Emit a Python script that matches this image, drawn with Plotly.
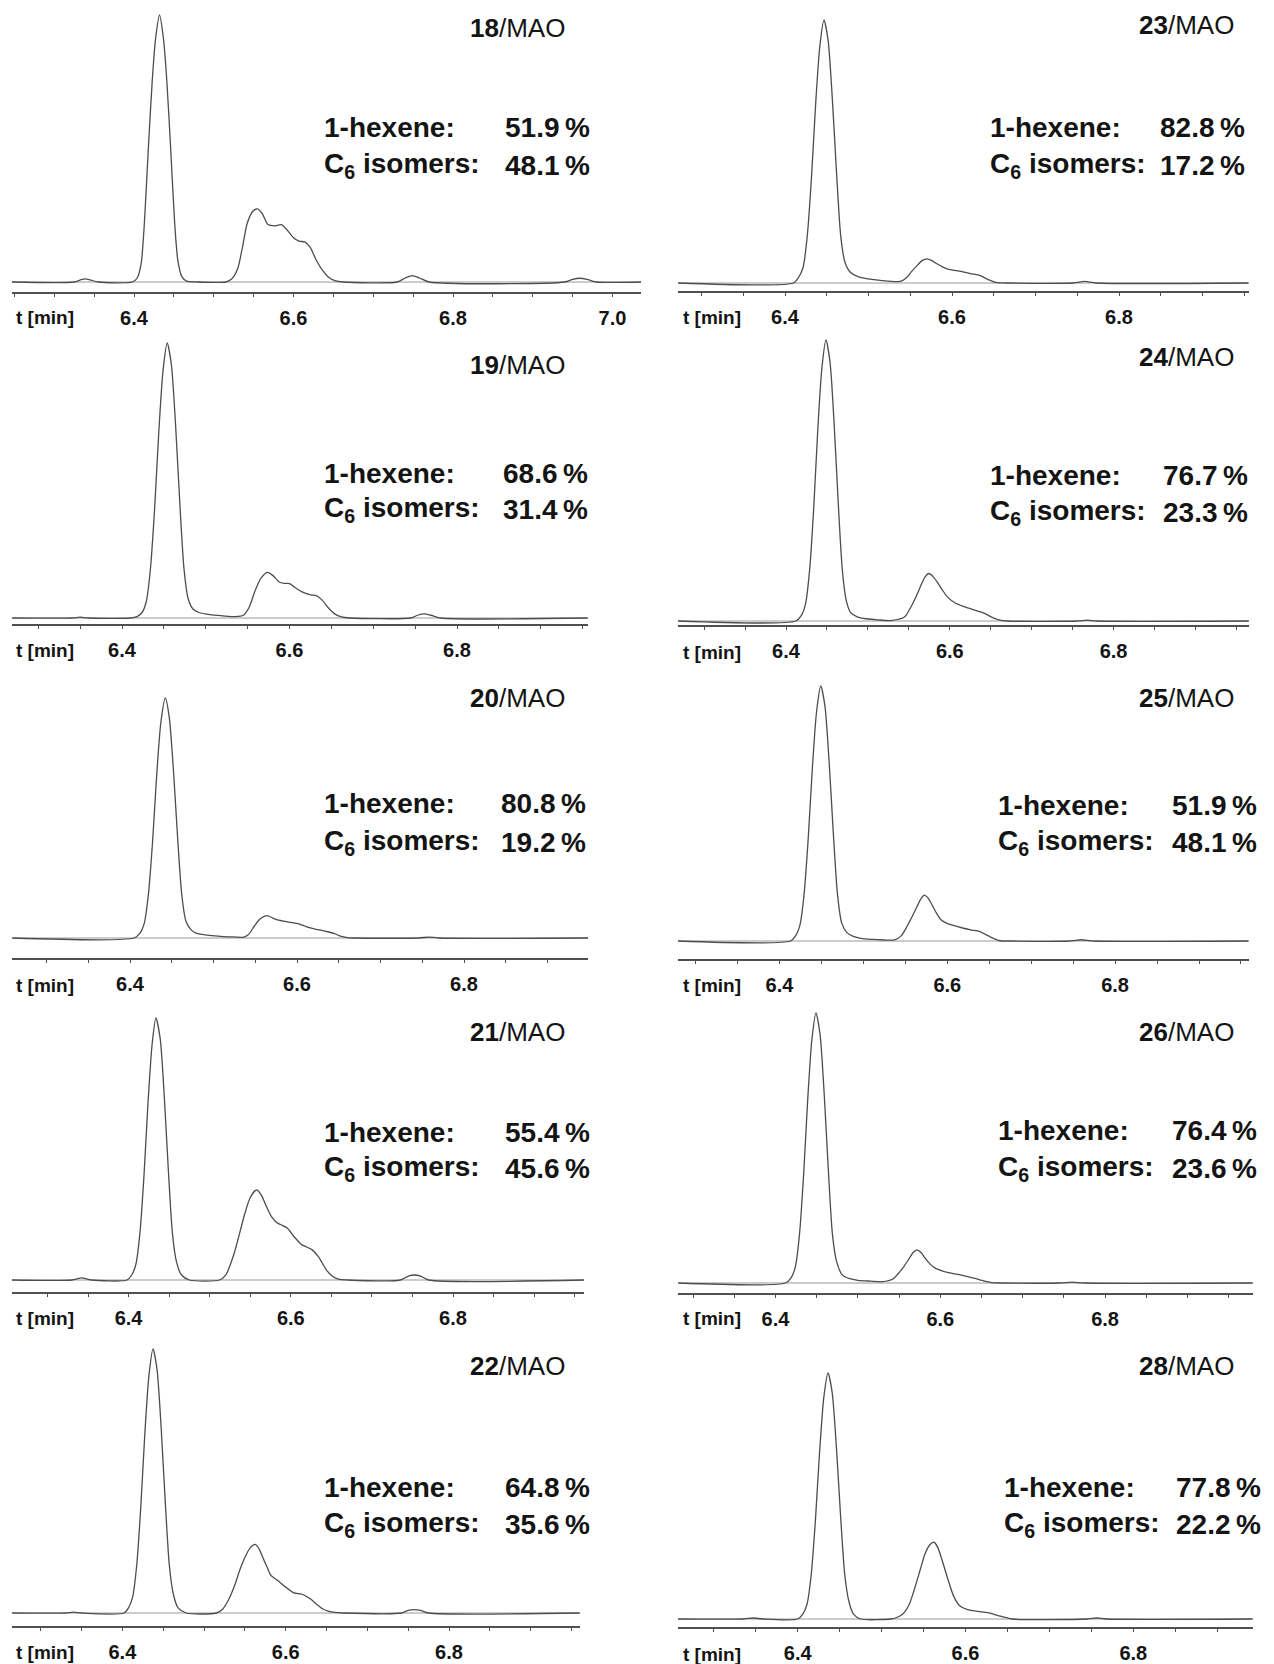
import plotly.graph_objects as go

W, H = 1274, 1664

# ---- data -------------------------------------------------------------
catalysts = ["18", "19", "20", "21", "22", "23", "24", "25", "26", "28"]
hexene_pct = [51.9, 68.6, 80.8, 55.4, 64.8, 82.8, 76.7, 51.9, 76.4, 77.8]
isomer_pct = [48.1, 31.4, 19.2, 45.6, 35.6, 17.2, 23.3, 48.1, 23.6, 22.2]
ticks_long = [6.4, 6.6, 6.8, 7.0]
ticks_short = [6.4, 6.6, 6.8]

# retention time t [min] and detector signal (% of the 1-hexene peak)
t_18 = [6.247, 6.325, 6.333, 6.339, 6.345, 6.355, 6.398, 6.404, 6.409, 6.413, 6.418, 6.423,
        6.427, 6.432, 6.437, 6.441, 6.446, 6.451, 6.455, 6.460, 6.466, 6.48, 6.515, 6.522,
        6.53, 6.536, 6.542, 6.549, 6.555, 6.561, 6.568, 6.576, 6.585, 6.592, 6.6, 6.607,
        6.614, 6.621, 6.628, 6.636, 6.644, 6.652, 6.662, 6.73, 6.74, 6.749, 6.758, 6.77,
        6.94, 6.95, 6.959, 6.968, 6.98, 7.036]
s_18 = [0, 0, 0.8, 1.2, 0.8, 0, 0, 1.5, 7, 22, 50, 76,
        91, 100, 91, 76, 50, 22, 8, 2, 0.3, 0, 0, 1,
        5, 13, 22, 26.5, 27.4, 25.5, 21.5, 21, 21.5, 19.5, 16.6, 15.3,
        15, 13, 8.5, 4.5, 1.8, 0.5, 0, 0, 1.5, 2.4, 1.5, 0,
        0, 1, 1.4, 1, 0, 0]

t_19 = [6.269, 6.34, 6.35, 6.36, 6.41, 6.418, 6.424, 6.429, 6.434, 6.439, 6.444, 6.449,
        6.454, 6.459, 6.464, 6.469, 6.474, 6.479, 6.485, 6.492, 6.505, 6.52, 6.535, 6.545,
        6.552, 6.559, 6.566, 6.5735, 6.58, 6.588, 6.594, 6.6, 6.607, 6.615, 6.624, 6.632,
        6.639, 6.646, 6.654, 6.662, 6.672, 6.745, 6.753, 6.761, 6.769, 6.78, 6.956]
s_19 = [0, 0, 0.3, 0, 0, 0.5, 2, 6, 18, 40, 68, 90,
        100, 92, 70, 42, 18, 7, 3.2, 2, 1.2, 0.8, 0.5, 1,
        4, 10, 14.5, 16.6, 15.5, 13, 12.6, 12.5, 11, 9.5, 8.5, 8.1,
        6.5, 3.8, 1.5, 0.4, 0, 0, 1, 1.5, 1, 0, 0]

t_20 = [6.259, 6.405, 6.412, 6.417, 6.422, 6.427, 6.432, 6.437, 6.4423, 6.447, 6.452, 6.457,
        6.462, 6.467, 6.473, 6.479, 6.488, 6.498, 6.512, 6.527, 6.535, 6.542, 6.549, 6.556,
        6.5644, 6.571, 6.578, 6.586, 6.594, 6.601, 6.609, 6.616, 6.623, 6.63, 6.638, 6.645,
        6.652, 6.66, 6.67, 6.745, 6.758, 6.77, 6.949]
s_20 = [0, 0, 2, 6, 18, 40, 68, 90, 100, 92, 70, 42,
        18, 7, 3.5, 2, 1.4, 1, 0.6, 0.4, 0.3, 1.5, 5, 8,
        9.3, 8.3, 7.4, 6.9, 6.4, 6, 5, 4.2, 3.6, 3.2, 2.5, 1.8,
        0.8, 0.2, 0, 0, 0.4, 0, 0]

t_21 = [6.256, 6.33, 6.342, 6.354, 6.398, 6.404, 6.409, 6.414, 6.419, 6.424, 6.429, 6.4337,
        6.439, 6.444, 6.449, 6.454, 6.459, 6.465, 6.475, 6.512, 6.52, 6.53, 6.537, 6.543,
        6.55, 6.5578, 6.5635, 6.5686, 6.5762, 6.5837, 6.5887, 6.5962, 6.6038, 6.6139, 6.6189,
        6.6264, 6.634, 6.644, 6.651, 6.6586, 6.67, 6.735, 6.745, 6.752, 6.76, 6.77, 6.962]
s_21 = [0, 0, 0.8, 0, 0, 2, 6, 18, 40, 68, 90, 100,
        92, 70, 42, 18, 7, 2, 0, 0, 2, 10, 18, 25,
        31.5, 34.4, 32.5, 29, 24.2, 21.7, 21, 19.7, 16.6, 13.4, 12.7,
        11.5, 8.9, 3.8, 1.5, 0.3, 0, 0, 1.5, 1.9, 1.5, 0, 0]

t_22 = [6.265, 6.33, 6.34, 6.35, 6.402, 6.4075, 6.4125, 6.4175, 6.4225, 6.4275, 6.4325, 6.4375,
        6.4425, 6.4475, 6.4525, 6.4575, 6.4625, 6.468, 6.478, 6.515, 6.523, 6.53, 6.537, 6.544,
        6.55, 6.556, 6.5625, 6.567, 6.572, 6.577, 6.582, 6.59, 6.6, 6.61, 6.62, 6.63,
        6.637, 6.645, 6.652, 6.66, 6.67, 6.742, 6.75, 6.7575, 6.765, 6.775, 6.96]
s_22 = [0, 0, 0.3, 0, 0, 2, 6, 18, 40, 68, 90, 100,
        92, 70, 42, 18, 7, 2, 0, 0, 1.5, 5, 10, 16.5,
        21, 24.5, 26, 24.5, 21, 17.5, 14.2, 12.4, 9.8, 7.6, 7.1, 5.4,
        3.5, 1.6, 0.7, 0.2, 0, 0, 1, 1.3, 1, 0, 0]

t_23 = [6.272, 6.41, 6.416, 6.4217, 6.4267, 6.4317, 6.4367, 6.4417, 6.4467, 6.4517, 6.4567, 6.4617,
        6.4667, 6.4717, 6.478, 6.488, 6.497, 6.507, 6.517, 6.527, 6.535, 6.54, 6.5463, 6.552,
        6.5584, 6.564, 6.57, 6.576, 6.582, 6.588, 6.594, 6.601, 6.6086, 6.616, 6.6235, 6.6331,
        6.643, 6.6525, 6.665, 6.745, 6.759, 6.773, 6.955]
s_23 = [0, 0, 2, 6, 18, 40, 68, 90, 100, 92, 70, 42,
        18, 8, 4.2, 2.3, 1.7, 1.3, 0.9, 0.6, 0.5, 0.8, 2.3, 4.5,
        6.7, 8.5, 9.2, 8.5, 7.3, 6.2, 5.4, 4.9, 4.5, 4, 3.5, 2.9,
        1.4, 0.2, 0, 0, 0.6, 0, 0]

t_24 = [6.268, 6.412, 6.4188, 6.4238, 6.4288, 6.4338, 6.4388, 6.4438, 6.4488, 6.4538, 6.4588, 6.4638,
        6.4688, 6.4738, 6.479, 6.487, 6.498, 6.512, 6.53, 6.545, 6.5525, 6.5593, 6.5648, 6.57,
        6.5746, 6.5795, 6.5845, 6.591, 6.597, 6.6066, 6.6165, 6.624, 6.6313, 6.641, 6.651, 6.66,
        6.67, 6.755, 6.768, 6.78, 6.965]
s_24 = [0, 0, 2, 6, 18, 40, 68, 90, 100, 92, 70, 42,
        18, 7, 3, 1.5, 0.8, 0.4, 0.2, 1.5, 5, 9, 12.7, 15.8,
        16.9, 15.8, 13.9, 11, 8.6, 6.4, 5.2, 4.5, 3.8, 2.9, 1.4, 0.4,
        0, 0, 0.3, 0, 0]

t_25 = [6.279, 6.413, 6.4192, 6.4242, 6.4292, 6.4342, 6.4392, 6.4442, 6.4492, 6.4542, 6.4592, 6.4642,
        6.4692, 6.4742, 6.48, 6.488, 6.497, 6.51, 6.525, 6.537, 6.545, 6.5518, 6.558, 6.5639,
        6.5685, 6.5726, 6.5767, 6.5808, 6.587, 6.5928, 6.5989, 6.6049, 6.6193, 6.629, 6.6386, 6.6507,
        6.6628, 6.675, 6.745, 6.76, 6.775, 6.959]
s_25 = [0, 0, 2, 6, 18, 40, 68, 90, 100, 92, 70, 42,
        18, 7, 3.4, 1.8, 1, 0.6, 0.4, 0.4, 2, 5.6, 9.5, 13.5,
        16.5, 18, 17, 14.8, 11, 8.2, 7, 6.3, 5, 4.3, 3.7, 1.7,
        0.1, 0, 0, 0.5, 0, 0]

t_26 = [6.282, 6.412, 6.4191, 6.4241, 6.4291, 6.4341, 6.4391, 6.4441, 6.4491, 6.4541, 6.4591, 6.4641,
        6.4691, 6.4741, 6.481, 6.49, 6.5, 6.515, 6.53, 6.5425, 6.5496, 6.556, 6.5619, 6.567,
        6.5717, 6.5766, 6.5815, 6.5877, 6.5938, 6.6085, 6.623, 6.6355, 6.6478, 6.6625, 6.675, 6.745,
        6.76, 6.775, 6.979]
s_26 = [0, 0, 2, 6, 18, 40, 68, 90, 100, 92, 70, 42,
        18, 8, 3, 1.6, 1, 0.7, 0.5, 1.5, 3.7, 6.2, 8.9, 11.3,
        12.3, 11.3, 9.2, 7, 5.5, 3.9, 3.1, 2.2, 1.2, 0.1, 0, 0,
        0.3, 0, 0]

t_28 = [6.257, 6.335, 6.347, 6.359, 6.40, 6.4061, 6.4111, 6.4161, 6.4211, 6.4261, 6.4311, 6.4361,
        6.4411, 6.4461, 6.4511, 6.4561, 6.4611, 6.4665, 6.475, 6.511, 6.518, 6.5253, 6.533, 6.5398,
        6.546, 6.5518, 6.557, 6.5625, 6.567, 6.5711, 6.5783, 6.5856, 6.593, 6.6026, 6.6147, 6.6266,
        6.6387, 6.6555, 6.745, 6.7566, 6.768, 6.942]
s_28 = [0, 0, 0.4, 0, 0, 2, 6, 18, 40, 68, 90, 100,
        92, 70, 42, 18, 7, 2, 0, 0, 0.6, 2, 6, 12.9,
        20, 26.5, 30, 31.2, 29, 25, 17, 9.5, 5.4, 3.8, 3.1, 2.6,
        1.4, 0, 0, 0.4, 0, 0]

traces = {
    "18": (t_18, s_18), "19": (t_19, s_19), "20": (t_20, s_20), "21": (t_21, s_21),
    "22": (t_22, s_22), "23": (t_23, s_23), "24": (t_24, s_24), "25": (t_25, s_25),
    "26": (t_26, s_26), "28": (t_28, s_28),
}

# ---- panel layout (pixels) ----------------------------------------------
# x0/x1: axis ends, x64: position of the 6.4 min tick, ppm: pixels per minute,
# top/base/axis: y of peak apex, signal baseline and time axis,
# lab: y of tick labels, ttl: y of the sample name, l1/l2: y of the two result lines,
# tl/tr: left/right edge of the result text, ttr: right edge of the sample name
geometry = {
    "18": dict(x0=12, x1=641, x64=134, ppm=797.5, top=15, base=282, axis=292, lab=318,
               ttl=28, l1=127, l2=165, tl=322, tr=592, ttr=567),
    "19": dict(x0=12, x1=588, x64=122, ppm=837.5, top=343, base=618, axis=624, lab=650,
               ttl=365, l1=473, l2=510, tl=322, tr=590, ttr=567),
    "20": dict(x0=12, x1=588, x64=130, ppm=835, top=698, base=938, axis=958, lab=985,
               ttl=698, l1=803, l2=842, tl=322, tr=588, ttr=567),
    "21": dict(x0=12, x1=584, x64=128.6, ppm=811, top=1018, base=1280, axis=1292, lab=1318,
               ttl=1032, l1=1132, l2=1168, tl=322, tr=592, ttr=567),
    "22": dict(x0=12, x1=580, x64=122.4, ppm=816.5, top=1349, base=1613, axis=1626, lab=1652,
               ttl=1366, l1=1487, l2=1524, tl=322, tr=592, ttr=567),
    "23": dict(x0=678, x1=1249, x64=785, ppm=835, top=20, base=283, axis=291, lab=318,
               ttl=25, l1=127, l2=165, tl=988, tr=1247, ttr=1236),
    "24": dict(x0=678, x1=1249, x64=786, ppm=819, top=340, base=621, axis=625, lab=652,
               ttl=357, l1=475, l2=512, tl=988, tr=1250, ttr=1236),
    "25": dict(x0=678, x1=1249, x64=779.5, ppm=839, top=686, base=941, axis=959, lab=985,
               ttl=698, l1=805, l2=842, tl=996, tr=1259, ttr=1236),
    "26": dict(x0=678, x1=1253, x64=775.5, ppm=824, top=1013, base=1283, axis=1293, lab=1318,
               ttl=1032, l1=1130, l2=1168, tl=996, tr=1259, ttr=1236),
    "28": dict(x0=678, x1=1253, x64=797.7, ppm=839, top=1373, base=1619, axis=1627, lab=1654,
               ttl=1366, l1=1487, l2=1524, tl=1002, tr=1263, ttr=1236),
}

FONT = "Liberation Sans, Arial, Helvetica, sans-serif"
INK = "#141414"
TRACE = "#4d4d4d"
AXIS = "#505050"

fig = go.Figure()
layout = dict(
    width=W, height=H, autosize=False,
    margin=dict(l=0, r=0, t=0, b=0),
    paper_bgcolor="white", plot_bgcolor="white",
    showlegend=False,
    annotations=[], shapes=[],
)


def py(px):
    return 1 - px / H


for i, name in enumerate(catalysts):
    n = i + 1
    g = geometry[name]
    xa = "x" if n == 1 else f"x{n}"
    ya = "y" if n == 1 else f"y{n}"
    t, s = traces[name]

    fig.add_trace(go.Scatter(
        x=t, y=s, xaxis=xa, yaxis=ya, mode="lines",
        line=dict(color=TRACE, width=1.3, shape="spline", smoothing=0.7),
        hoverinfo="skip",
    ))

    k = (g["base"] - g["top"]) / 100.0          # px per signal unit
    pad = 4
    t_lo = 6.4 - (g["x64"] - g["x0"]) / g["ppm"]
    t_hi = 6.4 + (g["x1"] - g["x64"]) / g["ppm"]
    tv = ticks_long if name == "18" else ticks_short

    layout["xaxis" if n == 1 else f"xaxis{n}"] = dict(
        domain=[g["x0"] / W, g["x1"] / W], anchor=ya, range=[t_lo, t_hi],
        showgrid=False, zeroline=False, showline=True,
        linecolor=AXIS, linewidth=1.6,
        tickmode="array", tickvals=tv, ticktext=[f"{v:.1f}" for v in tv],
        ticks="outside", ticklen=3, tickwidth=1, tickcolor=AXIS,
        ticklabelstandoff=4,
        tickfont=dict(family=FONT, size=20, color=INK, weight="bold"),
        minor=dict(tickmode="linear", tick0=6.4, dtick=0.05, ticks="outside",
                   ticklen=3, tickwidth=1, tickcolor=AXIS),
        fixedrange=True,
    )
    layout["yaxis" if n == 1 else f"yaxis{n}"] = dict(
        domain=[py(g["axis"]), py(g["top"] - pad)], anchor=xa,
        range=[-(g["axis"] - g["base"]) / k, 100 + pad / k],
        visible=False, fixedrange=True,
    )

    # signal baseline
    layout["shapes"].append(dict(
        type="line", xref=f"{xa} domain", yref=ya, x0=0, x1=1, y0=0, y1=0,
        line=dict(color="#9a9a9a", width=1), layer="below",
    ))

    ann = layout["annotations"]
    col_center = 45 if g["x0"] < 300 else 712
    ann.append(dict(
        text="<b>t [min]</b>", x=col_center / W, y=py(g["lab"]), xref="paper", yref="paper",
        xanchor="center", yanchor="middle", showarrow=False,
        font=dict(family=FONT, size=19, color=INK),
    ))
    ann.append(dict(
        text=f"<b>{name}</b>/MAO", x=g["ttr"] / W, y=py(g["ttl"]), xref="paper", yref="paper",
        xanchor="right", yanchor="middle", showarrow=False,
        font=dict(family=FONT, size=26, color=INK),
    ))
    for label, val, yy in (("1-hexene:", hexene_pct[i], g["l1"]),
                           ("C<sub>6</sub> isomers:", isomer_pct[i], g["l2"])):
        ann.append(dict(
            text=f"<b>{label}</b>", x=g["tl"] / W, y=py(yy), xref="paper", yref="paper",
            xanchor="left", yanchor="middle", showarrow=False,
            font=dict(family=FONT, size=28, color=INK),
        ))
        ann.append(dict(
            text=f"<b>{val:.1f}\u2009%</b>", x=g["tr"] / W, y=py(yy), xref="paper", yref="paper",
            xanchor="right", yanchor="middle", showarrow=False,
            font=dict(family=FONT, size=28, color=INK),
        ))

fig.update_layout(**layout)
fig.write_html("out.html")
